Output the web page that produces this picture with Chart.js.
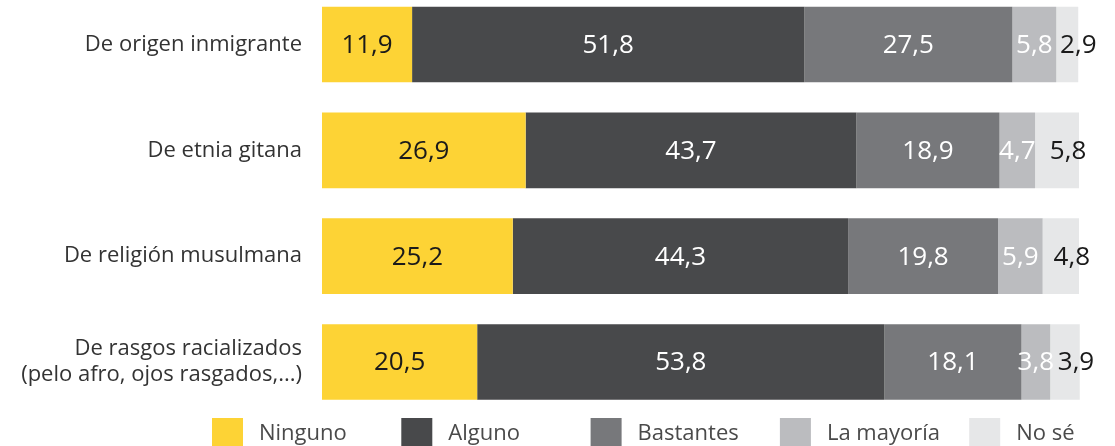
<!DOCTYPE html>
<html>
<head>
<meta charset="utf-8">
<script src="https://cdn.jsdelivr.net/npm/chart.js@4/dist/chart.umd.min.js"></script>
<style>
  html, body { margin: 0; padding: 0; background: #fff; }
  #wrap { position: relative; width: 1115px; height: 446px; }
</style>
</head>
<body>
<div id="wrap"><canvas id="chart" width="1115" height="446"></canvas></div>
<script>
const categories = [
  "De origen inmigrante",
  "De etnia gitana",
  "De religión musulmana",
  ["De rasgos racializados", "(pelo afro, ojos rasgados,...)"]
];
const seriesNames = ["Ninguno", "Alguno", "Bastantes", "La mayoría", "No sé"];
const ninguno   = [11.9, 26.9, 25.2, 20.5];
const alguno    = [51.8, 43.7, 44.3, 53.8];
const bastantes = [27.5, 18.9, 19.8, 18.1];
const mayoria   = [5.8, 4.7, 5.9, 3.8];
const nose      = [2.9, 5.8, 4.8, 3.9];

const colors = ["#fdd335", "#48494b", "#77787b", "#bbbcbf", "#e6e7e8"];
const labelColors = ["#1a1a1a", "#ffffff", "#ffffff", "#ffffff", "#1a1a1a"];
const labelShift = [0, 0, 0, 0, 11]; // "No sé" labels sit a bit to the right
const FONT = "'Open Sans', sans-serif";

const seriesValues = [ninguno, alguno, bastantes, mayoria, nose];

// value labels in the middle of each segment
const valueLabels = {
  id: "valueLabels",
  afterDatasetsDraw(chart) {
    const c = chart.ctx;
    c.save();
    c.font = "26px " + FONT;
    c.textAlign = "center";
    c.textBaseline = "middle";
    chart.data.datasets.forEach((ds, i) => {
      chart.getDatasetMeta(i).data.forEach((bar, j) => {
        const mid = (bar.x + bar.base) / 2 + labelShift[i];
        c.fillStyle = labelColors[i];
        c.fillText(ds.data[j].toFixed(1).replace(".", ","), mid, bar.y + 1);
      });
    });
    c.restore();
  }
};

// legend with even spacing like the original
const bottomLegend = {
  id: "bottomLegend",
  afterDraw(chart) {
    const c = chart.ctx;
    c.save();
    c.font = "22px " + FONT;
    c.textBaseline = "middle";
    seriesNames.forEach((name, i) => {
      const x = 212 + i * 189.3;
      c.fillStyle = colors[i];
      c.fillRect(x, 418, 31, 28);
      c.fillStyle = "#4a4a4a";
      c.fillText(name, x + 47, 434);
    });
    c.restore();
  }
};

new Chart(document.getElementById("chart"), {
  type: "bar",
  data: {
    labels: categories,
    datasets: seriesValues.map((vals, i) => ({
      label: seriesNames[i],
      data: vals,
      backgroundColor: colors[i],
      borderWidth: 0,
      barPercentage: 0.715,
      categoryPercentage: 1,
      clip: false
    }))
  },
  options: {
    indexAxis: "y",
    responsive: false,
    animation: false,
    layout: { padding: { top: 44.5, bottom: 84, right: 36, left: 0 } },
    scales: {
      x: { stacked: true, min: 0, max: 100, display: false },
      y: {
        stacked: true,
        offset: false,
        grid: { display: false },
        border: { display: false },
        ticks: { color: "#333", font: { family: "'Open Sans'", size: 22 }, padding: 12, lineHeight: 1.15 },
        afterFit(scale) { scale.width = 322; }
      }
    },
    plugins: { legend: { display: false }, tooltip: { enabled: false } }
  },
  plugins: [valueLabels, bottomLegend]
});
</script>
</body>
</html>
